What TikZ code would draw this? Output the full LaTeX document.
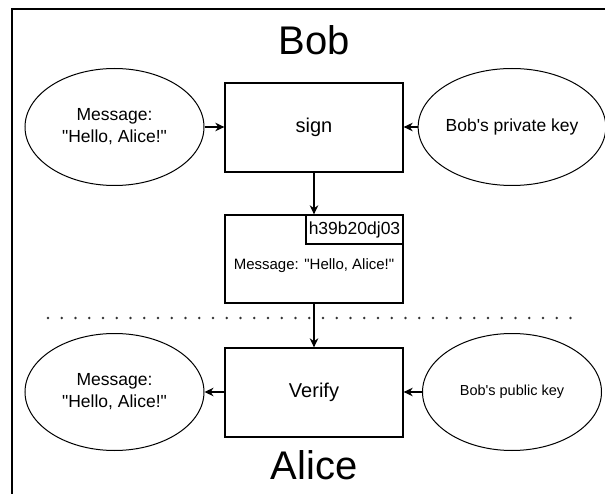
\documentclass[tikz,border=0pt]{standalone}
\usepackage{fontspec}
\setmainfont{Liberation Sans}[Ligatures=TeXOff]
\usetikzlibrary{shapes.geometric,arrows.meta}

\tikzset{
  box/.style={draw, line width=1.3pt, minimum width=178pt, minimum height=89pt, inner sep=0pt},
  oval/.style={ellipse, draw, line width=1pt, minimum width=179pt, minimum height=117pt, inner sep=0pt, align=center},
  link/.style={line width=1.3pt, -{Stealth[length=9pt, width=8.5pt, inset=2.8pt]}},
  fs/.style 2 args={font=\fontsize{#1}{#2}\selectfont},
}

\begin{document}
\begin{tikzpicture}[x=1pt, y=-1pt]
  \useasboundingbox (0,0) rectangle (605,494);

  % partial frame
  \draw[line width=2pt] (12,494) -- (12,9) -- (605,9);

  % titles
  \node[fs={40}{48}, anchor=base, inner sep=0pt] (bob) at (314,55) {Bob};
  \node[fs={40}{48}, anchor=base, inner sep=0pt] (alice) at (314,479) {Alice};

  % signing side
  \node[oval, fs={17.5}{22}] (msgA) at (114.5,127) {Message:\\"Hello, Alice!"};
  \node[box, fs={20}{24}] (sign) at (314,127.5) {sign};
  \node[oval, fs={17.5}{22}] (priv) at (512,127) {Bob's private key};

  % signed message with hash tag
  \node[box, minimum height=88pt] (signed) at (314,259) {};
  \node[draw, line width=1.3pt, anchor=north east, minimum width=97pt, minimum height=29pt, inner sep=0pt, fs={17.5}{21}] (hash) at (signed.north east) {h39b20dj03};
  \node[fs={15}{18}, inner sep=0pt] (smsg) at (314,266) {Message: "Hello, Alice!"};

  % separator
  \coordinate (sepL) at (48,318);
  \coordinate (sepR) at (572,318);
  \draw[line width=2.6pt, line cap=round, dash pattern=on 0pt off 13.75pt, black!80] (sepL) -- (sepR);

  % verifying side
  \node[oval, fs={17.5}{22}] (msgB) at (114.5,392) {Message:\\"Hello, Alice!"};
  \node[box, fs={20}{24}] (verify) at (314,392.5) {Verify};
  \node[oval, fs={14.5}{18}] (pub) at (512,392) {Bob's public key};

  % connectors
  \draw[link] (msgA.east) -- (sign.west |- msgA.east);
  \draw[link] (priv.west) -- (sign.east |- priv.west);
  \draw[link] (sign.south) -- (signed.north);
  \draw[link] (signed.south) -- (verify.north);
  \draw[link] (verify.west |- msgB.east) -- (msgB.east);
  \draw[link] (pub.west) -- (verify.east |- pub.west);
\end{tikzpicture}
\end{document}
